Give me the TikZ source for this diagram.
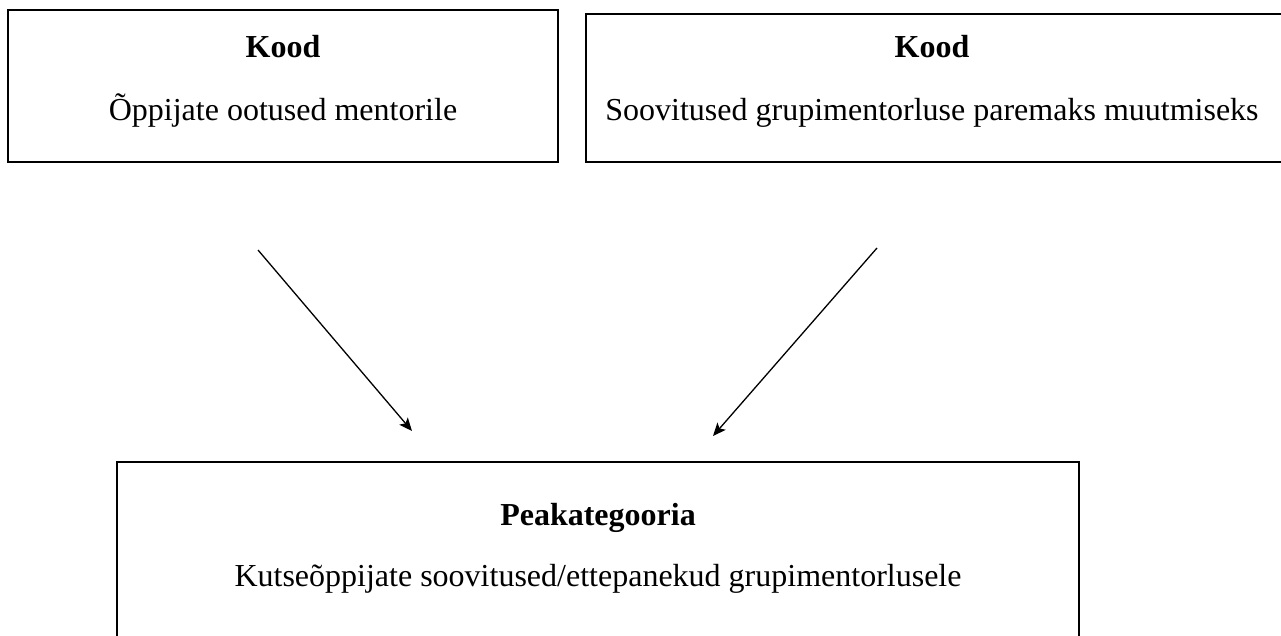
\documentclass[tikz,border=0pt]{standalone}
\usepackage{fontspec}
\setmainfont{Liberation Serif}
\usetikzlibrary{arrows.meta}
\begin{document}
\begin{tikzpicture}[x=1pt,y=-1pt,
  box/.style={draw=black,line width=2pt,fill=white},
  title/.style={font=\fontsize{32}{38}\selectfont\bfseries,anchor=base,inner sep=0pt},
  body/.style={font=\fontsize{32}{38}\selectfont,anchor=base,inner sep=0pt},
  conn/.style={line width=1.3pt,-{Stealth[length=13pt,width=11pt,inset=3pt]}}]
\useasboundingbox (0,0) rectangle (1281,636);
\clip (0,0) rectangle (1281,636);
\fill[white] (0,0) rectangle (1281,636);
\draw[box] (8,10) rectangle (558,162);
\draw[box] (586,14) rectangle (1295,162);
\draw[box] (117,462) rectangle (1079,660);
\node[title] (k1) at (283,58) {Kood};
\node[body] (t1) at (283,121) {Õppijate ootused mentorile};
\node[title] (k2) at (932,58) {Kood};
\node[body] (t2) at (932,121) {Soovitused grupimentorluse paremaks muutmiseks};
\node[title] (p) at (598,525) {Peakategooria};
\node[body] (t3) at (598,586) {Kutseõppijate soovitused/ettepanekud grupimentorlusele};
\coordinate (a1s) at (258,250);
\coordinate (a1e) at (412,431);
\coordinate (a2s) at (877,248);
\coordinate (a2e) at (713,436);
\draw[conn] (a1s) -- (a1e);
\draw[conn] (a2s) -- (a2e);
\end{tikzpicture}
\end{document}
